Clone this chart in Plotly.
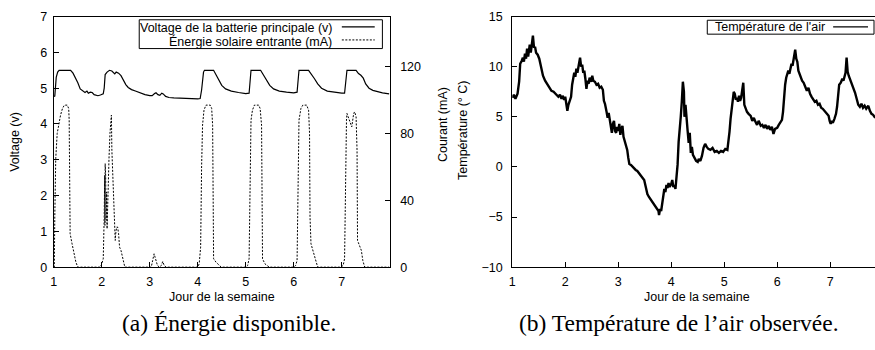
import plotly.graph_objects as go

# ---------------- data ----------------
volt_day = [1.00, 1.02, 1.05, 1.08, 1.11, 1.35, 1.40, 1.45, 1.50, 1.55, 1.58, 1.62, 1.65, 1.69, 1.72,
            1.76, 1.80, 1.84, 1.88, 1.92, 1.97, 2.03, 2.05, 2.07, 2.11, 2.16, 2.21, 2.24, 2.27, 2.30,
            2.35, 2.40, 2.45, 2.50, 2.55, 2.62, 2.70, 2.80, 2.90, 3.00, 3.05, 3.10, 3.13, 3.17, 3.21,
            3.25, 3.28, 3.33, 3.40, 3.50, 3.60, 3.70, 3.80, 3.90, 4.00, 4.05, 4.08, 4.12, 4.14, 4.33,
            4.38, 4.43, 4.50, 4.58, 4.70, 4.85, 5.00, 5.07, 5.09, 5.11, 5.31, 5.36, 5.42, 5.50, 5.58,
            5.70, 5.85, 6.00, 6.07, 6.09, 6.11, 6.31, 6.37, 6.43, 6.50, 6.58, 6.70, 6.85, 7.00, 7.06,
            7.08, 7.11, 7.30, 7.35, 7.40, 7.45, 7.50, 7.57, 7.65, 7.75, 7.85, 7.99]
volt_val = [4.77, 4.78, 5.30, 5.45, 5.50, 5.50, 5.42, 5.30, 5.15, 4.98, 4.95, 4.93, 4.88, 4.92, 4.86,
            4.89, 4.88, 4.82, 4.80, 4.79, 4.81, 4.84, 5.00, 5.38, 5.45, 5.50, 5.48, 5.43, 5.40, 5.45,
            5.42, 5.35, 5.22, 5.10, 5.02, 4.96, 4.92, 4.86, 4.82, 4.79, 4.79, 4.85, 4.87, 4.82, 4.80,
            4.86, 4.84, 4.77, 4.74, 4.73, 4.72, 4.71, 4.71, 4.70, 4.70, 4.71, 4.95, 5.45, 5.50, 5.50,
            5.38, 5.25, 5.08, 4.98, 4.92, 4.88, 4.85, 4.86, 5.20, 5.50, 5.50, 5.38, 5.25, 5.08, 4.98,
            4.92, 4.89, 4.87, 4.89, 5.20, 5.50, 5.50, 5.40, 5.27, 5.12, 5.00, 4.92, 4.88, 4.86, 4.86,
            5.20, 5.50, 5.50, 5.41, 5.36, 5.28, 5.12, 5.00, 4.94, 4.90, 4.87, 4.84]

sol_day = [1.00, 1.01, 1.02, 1.04, 1.07, 1.10, 1.14, 1.18, 1.22, 1.28, 1.31, 1.32, 1.33, 1.34, 1.38,
           1.42, 1.46, 1.50, 1.97, 2.00, 2.03, 2.05, 2.06, 2.065, 2.07, 2.075, 2.08, 2.09, 2.10, 2.11,
           2.13, 2.15, 2.17, 2.19, 2.20, 2.21, 2.23, 2.25, 2.27, 2.28, 2.29, 2.31, 2.33, 2.35, 2.37,
           2.40, 2.44, 2.48, 3.00, 3.03, 3.06, 3.09, 3.12, 3.16, 3.20, 3.24, 3.27, 3.30, 3.34, 4.00,
           4.03, 4.06, 4.08, 4.10, 4.13, 4.17, 4.26, 4.29, 4.31, 4.32, 4.33, 4.38, 4.44, 4.49, 5.00,
           5.04, 5.07, 5.09, 5.11, 5.14, 5.18, 5.27, 5.30, 5.33, 5.34, 5.35, 5.40, 5.49, 6.00, 6.04,
           6.07, 6.09, 6.11, 6.15, 6.19, 6.27, 6.31, 6.33, 6.34, 6.36, 6.42, 6.50, 6.98, 7.03, 7.06,
           7.08, 7.10, 7.11, 7.16, 7.21, 7.25, 7.27, 7.30, 7.32, 7.33, 7.37, 7.41, 7.44, 7.48, 7.99]
sol_val = [0, 0, 30, 65, 80, 86, 91, 95, 97, 97, 95, 88, 50, 20, 14,
           8, 3, 0, 0, 2, 5, 30, 55, 25, 62, 30, 55, 28, 45, 23,
           50, 65, 80, 88, 91, 70, 55, 40, 25, 16, 20, 24, 24, 20, 12,
           10, 5, 0, 0, 0, 4, 8, 5, 1, 0, 1, 3.4, 1, 0, 0,
           2, 12, 60, 85, 94, 97, 97, 95, 85, 30, 5, 3, 1, 0, 0,
           1, 5, 60, 88, 94, 97, 97, 95, 85, 30, 5, 2, 0, 0, 1,
           4, 60, 88, 95, 97, 97, 94, 80, 30, 14, 8, 0, 0, 1, 5,
           60, 88, 92, 88, 84, 92, 93, 90, 70, 16, 13, 10, 4, 0, 0]

temp_day = [1.00, 1.03, 1.06, 1.10, 1.13, 1.15, 1.18, 1.20, 1.22, 1.24, 1.26, 1.28, 1.30, 1.33, 1.35,
            1.37, 1.39, 1.41, 1.43, 1.45, 1.48, 1.51, 1.55, 1.58, 1.62, 1.66, 1.70, 1.74, 1.78, 1.83,
            1.87, 1.90, 1.93, 1.95, 1.98, 2.00, 2.02, 2.04, 2.06, 2.09, 2.11, 2.13, 2.15, 2.17, 2.19,
            2.21, 2.23, 2.26, 2.28, 2.30, 2.32, 2.34, 2.36, 2.38, 2.40, 2.42, 2.44, 2.46, 2.49, 2.51,
            2.53, 2.56, 2.59, 2.62, 2.65, 2.68, 2.71, 2.73, 2.75, 2.78, 2.80, 2.82, 2.84, 2.86, 2.88,
            2.90, 2.92, 2.94, 2.96, 2.98, 3.00, 3.02, 3.04, 3.06, 3.08, 3.10, 3.13, 3.15, 3.17, 3.19,
            3.21, 3.24, 3.27, 3.30, 3.33, 3.36, 3.39, 3.42, 3.46, 3.49, 3.52, 3.55, 3.58, 3.62, 3.65,
            3.68, 3.71, 3.74, 3.76, 3.77, 3.79, 3.81, 3.83, 3.85, 3.87, 3.89, 3.91, 3.93, 3.95, 3.97,
            4.00, 4.02, 4.04, 4.06, 4.08, 4.10, 4.12, 4.14, 4.16, 4.18, 4.20, 4.22, 4.24, 4.25, 4.27,
            4.29, 4.31, 4.33, 4.35, 4.37, 4.39, 4.41, 4.44, 4.47, 4.50, 4.52, 4.55, 4.58, 4.61, 4.64,
            4.67, 4.70, 4.74, 4.78, 4.82, 4.86, 4.90, 4.94, 4.98, 5.02, 5.06, 5.08, 5.10, 5.12, 5.14,
            5.16, 5.18, 5.20, 5.22, 5.24, 5.26, 5.28, 5.30, 5.32, 5.34, 5.36, 5.38, 5.40, 5.43, 5.46,
            5.50, 5.53, 5.56, 5.59, 5.62, 5.65, 5.69, 5.72, 5.75, 5.78, 5.81, 5.84, 5.87, 5.90, 5.93,
            5.96, 6.00, 6.03, 6.06, 6.09, 6.11, 6.13, 6.15, 6.17, 6.19, 6.21, 6.23, 6.25, 6.27, 6.29,
            6.31, 6.33, 6.34, 6.36, 6.38, 6.40, 6.42, 6.44, 6.47, 6.50, 6.53, 6.56, 6.59, 6.62, 6.65,
            6.68, 6.71, 6.74, 6.77, 6.80, 6.83, 6.86, 6.89, 6.92, 6.95, 6.97, 6.99, 7.01, 7.03, 7.05,
            7.08, 7.11, 7.13, 7.15, 7.17, 7.20, 7.23, 7.25, 7.27, 7.29, 7.31, 7.33, 7.35, 7.38, 7.41,
            7.44, 7.47, 7.50, 7.53, 7.56, 7.59, 7.62, 7.65, 7.68, 7.72, 7.75, 7.78, 7.81, 7.85]
temp_val = [6.9, 7.2, 6.8, 7.3, 8.5, 10.3, 10.6, 10.9, 10.5, 11.3, 10.8, 11.8, 11.0, 12.2, 11.4,
            12.4, 13.1, 11.9, 12.0, 11.4, 11.2, 10.8, 9.8, 9.1, 8.6, 8.3, 7.9, 7.6, 7.5, 7.2,
            7.0, 7.2, 6.8, 7.1, 6.7, 7.0, 6.0, 5.6, 6.2, 6.6, 7.0, 8.2, 8.8, 9.4, 9.0,
            9.8, 9.4, 10.2, 10.9, 10.0, 10.2, 9.4, 9.6, 8.8, 7.8, 8.6, 8.3, 8.9, 8.5, 9.1,
            8.6, 8.5, 8.2, 8.3, 7.9, 8.0, 7.7, 6.6, 6.3, 5.5, 4.9, 5.4, 4.6, 3.8, 3.4,
            4.3, 4.6, 3.6, 3.4, 4.0, 3.6, 4.3, 3.2, 3.8, 4.1, 3.0, 2.4, 2.1, 1.7, 0.9,
            0.3, 0.2, 0.0, -0.1, -0.3, -0.4, -0.6, -0.8, -1.1, -1.3, -2.0, -2.7, -3.0, -3.3, -3.5,
            -3.8, -4.0, -4.2, -4.4, -4.8, -4.2, -4.4, -3.5, -2.6, -2.2, -2.5, -1.8, -2.1, -1.6, -2.0,
            -1.7, -1.3, -2.0, -1.8, -2.2, -1.0, 0.2, 2.5, 3.5, 5.0, 6.5, 8.5, 7.5, 5.0, 6.2,
            4.5, 3.6, 2.4, 3.4, 1.4, 2.0, 1.2, 0.9, 0.6, 0.5, 0.8, 0.6, 1.1, 1.9, 2.3,
            2.0, 1.8, 1.7, 1.9, 1.5, 1.6, 1.4, 1.6, 1.5, 1.8, 1.7, 2.4, 3.5, 4.8, 5.9,
            6.8, 7.5, 7.3, 6.7, 6.9, 6.5, 7.1, 6.6, 6.9, 7.6, 8.4, 6.2, 5.9, 5.5, 5.3,
            5.1, 4.6, 4.9, 4.5, 4.2, 4.6, 4.1, 4.2, 3.9, 4.2, 3.8, 4.1, 3.7, 4.0, 3.3,
            3.8, 3.9, 4.2, 4.5, 4.7, 5.5, 7.0, 8.2, 8.9, 9.2, 9.6, 9.3, 10.0, 10.3, 10.1,
            10.8, 11.2, 11.7, 10.8, 10.5, 9.6, 9.3, 9.0, 8.6, 8.4, 8.0, 7.6, 7.9, 7.3, 7.0,
            6.8, 6.5, 6.6, 6.2, 6.3, 5.9, 5.8, 5.6, 5.5, 5.3, 5.1, 4.6, 4.3, 4.6, 4.4,
            4.8, 5.3, 6.0, 7.5, 8.2, 8.4, 8.8, 8.6, 9.1, 9.4, 10.9, 9.5, 9.1, 8.7, 8.3,
            7.8, 7.4, 6.8, 6.2, 6.0, 6.3, 5.9, 6.1, 5.8, 6.1, 5.6, 5.3, 5.2, 4.9]

day_ticks = [1, 2, 3, 4, 5, 6, 7]
volt_ticks = [0, 1, 2, 3, 4, 5, 6, 7]
cur_ticks = [0, 40, 80, 120]
temp_ticks = [-10, -5, 0, 5, 10, 15]

# ---------------- figure ----------------
W, H = 875, 350
SANS = "Liberation Sans, Arial, sans-serif"
SERIF = "Liberation Serif, Times New Roman, serif"
FS = 12.5


def px(x):
    return x / W


def py(y):
    return 1 - y / H


fig = go.Figure()
fig.add_trace(go.Scatter(x=volt_day, y=volt_val, mode="lines", xaxis="x", yaxis="y",
                         line=dict(color="black", width=1.2), showlegend=False))
fig.add_trace(go.Scatter(x=sol_day, y=sol_val, mode="lines", xaxis="x", yaxis="y2",
                         line=dict(color="black", width=1, dash="2px,1.5px"), showlegend=False))
fig.add_trace(go.Scatter(x=temp_day, y=temp_val, mode="lines", xaxis="x3", yaxis="y3",
                         line=dict(color="black", width=2.4), showlegend=False))

ax = dict(showgrid=False, zeroline=False, showline=True, linecolor="black", linewidth=1,
          ticks="inside", ticklen=5, tickcolor="black", tickwidth=1,
          tickfont=dict(family=SANS, size=FS, color="black"))

ydom = [py(271), py(10)]
fig.update_layout(
    width=W, height=H, margin=dict(l=0, r=0, t=0, b=0),
    paper_bgcolor="white", plot_bgcolor="white",
    xaxis=dict(ax, domain=[px(51), px(388)], range=[1, 8], tickvals=day_ticks, mirror=True,
               anchor="y", ticklabelstandoff=3),
    yaxis=dict(ax, domain=ydom, range=[0, 7], tickvals=volt_ticks, anchor="x",
               ticklabelstandoff=3),
    yaxis2=dict(ax, range=[0, 150], tickvals=cur_ticks, overlaying="y", side="right",
                anchor="x", ticklabelstandoff=7),
    xaxis3=dict(ax, domain=[px(511), 1.0], range=[1, 1 + (875 - 511) / 53.17],
                tickvals=day_ticks, mirror=True, anchor="y3", ticklabelstandoff=3),
    yaxis3=dict(ax, domain=ydom, range=[-10, 15], tickvals=temp_ticks, anchor="x3",
                ticklabelstandoff=6),
)

ann = []


def text(x, y, s, size=FS, font=SANS, angle=0, xanchor="center"):
    ann.append(dict(x=px(x), y=py(y), xref="paper", yref="paper", text=s, showarrow=False,
                    textangle=angle, xanchor=xanchor, yanchor="middle",
                    font=dict(family=font, size=size, color="black")))


text(12.5, 140, "Voltage (v)", angle=-90)
text(441, 122.5, "Courant (mA)", angle=-90)
text(461.7, 129, "Température (° C)", angle=-90)
text(219.5, 302, "Jour de la semaine")
text(696.7, 302, "Jour de la semaine")
text(226.5, 329, "(a) Énergie disponible.", size=23.5, font=SERIF)
text(678.5, 329, "(b) Température de l’air observée.", size=23.5, font=SERIF)
# legends (gnuplot style: text then sample)
text(332, 21.5, "Voltage de la batterie principale (v)", xanchor="right")
text(332, 35.5, "Énergie solaire entrante (mA)", xanchor="right")
text(826.7, 20.7, "Température de l'air", xanchor="right")

shapes = [
    dict(type="rect", xref="paper", yref="paper", x0=px(136.7), x1=px(380.7), y0=py(43.3), y1=py(13.3),
         line=dict(color="black", width=1), fillcolor="white", layer="above"),
    dict(type="line", xref="paper", yref="paper", x0=px(340), x1=px(373), y0=py(20.7), y1=py(20.7),
         line=dict(color="black", width=1.2)),
    dict(type="line", xref="paper", yref="paper", x0=px(340), x1=px(373), y0=py(34.3), y1=py(34.3),
         line=dict(color="black", width=1, dash="2px,1.5px")),
    dict(type="rect", xref="paper", yref="paper", x0=px(706.7), x1=px(874), y0=py(28.3), y1=py(13.8),
         line=dict(color="black", width=1), fillcolor="white", layer="above"),
    dict(type="line", xref="paper", yref="paper", x0=px(833), x1=px(868), y0=py(20.7), y1=py(20.7),
         line=dict(color="black", width=1.2)),
]
fig.update_layout(annotations=ann, shapes=shapes)

fig.write_html("out.html", config={"displayModeBar": False},
               post_script="document.body.style.margin='0';document.body.style.overflow='hidden';")
